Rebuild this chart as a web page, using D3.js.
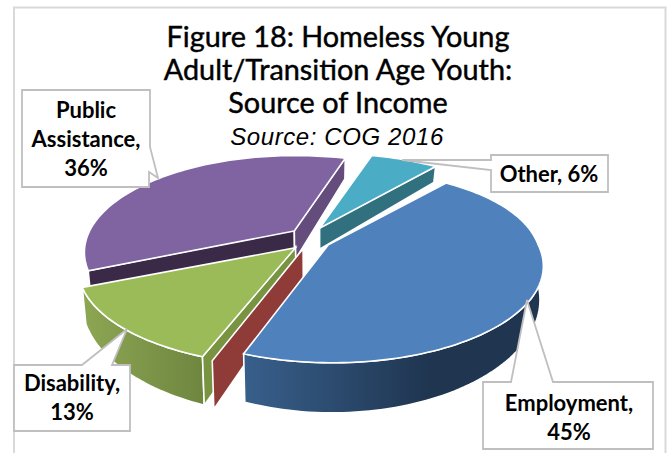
<!DOCTYPE html>
<html>
<head>
<meta charset="utf-8">
<style>
  html, body { margin: 0; padding: 0; background: #fff; }
  svg { display: block; }
  .title { font-family: "Lato", sans-serif; font-size: 28.8px; fill: #000; stroke: #000; stroke-width: 0.45px; text-anchor: middle; }
  .subtitle { font-family: "Liberation Sans", sans-serif; font-style: italic; font-size: 24px; letter-spacing: 0.6px; fill: #000; text-anchor: middle; }
  .callout-text { font-family: "Lato", sans-serif; font-weight: 700; font-size: 22px; fill: #000; text-anchor: middle; }
</style>
<script src="https://cdnjs.cloudflare.com/ajax/libs/d3/7.8.5/d3.min.js"></script>
</head>
<body>
<svg id="chart" width="668" height="453"></svg>
<script>
// Source-of-income shares, in the clockwise order they sit on the pie
const categories = ["Employment", "Disability", "Public Assistance", "Other"];
const shares = [45, 13, 36, 6];
const topColors = ["#4f81bd", "#9bbb59", "#8064a2", "#4bacc6"];
const titleLines = ["Figure 18: Homeless Young", "Adult/Transition Age Youth:", "Source of Income"];
const subtitleText = "Source: COG 2016";

// Tilted, perspective view of the disc
const view = { cx: 310, cy: 239, rx: 210, ry: 92, k: 0.22, skew: 12, thickness: 30.5, explodeX: 21, explodeY: 12, firstAngle: 38 };
const rimScale = [0.98, 0.995, 0.975, 1];
const rimNudge = [4, -3, 0, 0];
const rad = d => d * Math.PI / 180;

const arcs = d3.pie().sort(null).value(d => d)
  .startAngle(rad(view.firstAngle))
  .endAngle(rad(view.firstAngle + 360))(shares);

const svg = d3.select("#chart");
const defs = svg.append("defs");

function wallGradient(id, x1, x2, from, to) {
  const g = defs.append("linearGradient").attr("id", id)
    .attr("gradientUnits", "userSpaceOnUse")
    .attr("x1", x1).attr("x2", x2).attr("y1", 0).attr("y2", 0);
  g.append("stop").attr("offset", 0).attr("stop-color", from);
  g.append("stop").attr("offset", 1).attr("stop-color", to);
}
wallGradient("wallBlue", 243, 430, "#38608c", "#1f3550");
wallGradient("wallGreen", 88, 205, "#8ca552", "#6e853f");

// Chart frame
svg.append("path")
  .attr("d", "M14,453V7.5H665.5V453")
  .attr("fill", "none").attr("stroke", "#d9d9d9").attr("stroke-width", 2);

// Title block
const titleBaselines = [47, 80, 113];
svg.selectAll("text.title").data(titleLines).join("text")
  .attr("class", "title").attr("x", 338).attr("y", (d, i) => titleBaselines[i]).text(d => d);
svg.append("text").attr("class", "subtitle").attr("x", 337).attr("y", 145).text(subtitleText);

function hub(a) {
  const mid = (a.startAngle + a.endAngle) / 2;
  return { x: view.cx + view.explodeX * Math.sin(mid), y: view.cy - view.explodeY * Math.cos(mid) };
}
function rimPoint(a, theta) {
  const h = hub(a);
  const u = Math.sin(theta), v = -Math.cos(theta), d = 1 - view.k * v;
  const s = rimScale[a.index];
  // The far right quarter of the rim leans slightly outward
  const lean = u > 0 && v < 0 ? view.skew * u * -v : 0;
  return {
    x: h.x + rimNudge[a.index] + s * view.rx * u / d + lean,
    y: h.y + view.ry * v / d,
    d
  };
}
function lower(p, scale = 1) {
  const d = p.d || 1;
  return { x: 320 + (p.x - 320) * 0.985, y: p.y + scale * view.thickness / (d * d), d };
}
function rimPoints(a) {
  const n = Math.max(8, Math.ceil((a.endAngle - a.startAngle) / rad(1.5)));
  return d3.range(n + 1).map(i => rimPoint(a, a.startAngle + (a.endAngle - a.startAngle) * i / n));
}
const line = d3.line().x(p => p.x).y(p => p.y);
const closed = pts => line(pts) + "Z";

function face(pts, fill) {
  svg.append("path").attr("d", closed(pts)).attr("fill", fill)
    .attr("stroke", "#fff").attr("stroke-width", 1.6).attr("stroke-linejoin", "miter");
}
function cutWall(a, theta, fill, scale = 1, shift = { x: 0, y: 0 }) {
  const h = { x: hub(a).x + shift.x, y: hub(a).y + shift.y - 1 };
  const r0 = rimPoint(a, theta);
  const r = { x: r0.x + shift.x * 1.3, y: r0.y + shift.y * 2, d: r0.d };
  face([h, r, lower(r, scale), lower(h, scale)], fill);
}
function outerWall(a, fill) {
  const top = rimPoints(a);
  face(top.concat(top.map(p => lower(p)).reverse()), fill);
}
function topFace(a, fill) {
  const h = hub(a);
  face([h].concat(rimPoints(a)), fill);
}

const [employment, disability, assistance, other] = arcs;

// Back slices first, so the nearer ones overlap them
cutWall(other, other.endAngle, "#31707f", 0.72);
topFace(other, topColors[3]);

outerWall(assistance, "#6d5490");
cutWall(assistance, assistance.startAngle, "#3a2a48");
cutWall(assistance, assistance.endAngle, "#644c7d");
topFace(assistance, topColors[2]);

outerWall(disability, "url(#wallGreen)");
cutWall(disability, disability.startAngle, "#789440");
topFace(disability, topColors[1]);

// Employment's cut face stands just clear of the Disability slice
cutWall(disability, disability.startAngle, "#8f3b38", 1, { x: 7.5, y: 2 });

outerWall(employment, "url(#wallBlue)");
topFace(employment, topColors[0]);

// Callout boxes
const callouts = [
  { shape: "M22,90H150V147L158,178L149,172V187H22Z", lines: ["Public", "Assistance,", "36%"], x: 86, ys: [118, 147, 176] },
  { shape: "M491,155H608V192H491V170L402,160L491,160Z", lines: ["Other, 6%"], x: 549, ys: [182] },
  { shape: "M14,365H82L127,329L112,365H130V431H14Z", lines: ["Disability,", "13%"], x: 72, ys: [391, 420] },
  { shape: "M483,382H511L527,300L553,382H653V449H483Z", lines: ["Employment,", "45%"], x: 569, ys: [411, 440] }
];
callouts.forEach(c => {
  svg.append("path").attr("d", c.shape).attr("fill", "#fff")
    .attr("stroke", "#bfbfbf").attr("stroke-width", 1.8);
  c.lines.forEach((t, i) => {
    svg.append("text").attr("class", "callout-text").attr("x", c.x).attr("y", c.ys[i]).text(t);
  });
});
</script>
</body>
</html>
